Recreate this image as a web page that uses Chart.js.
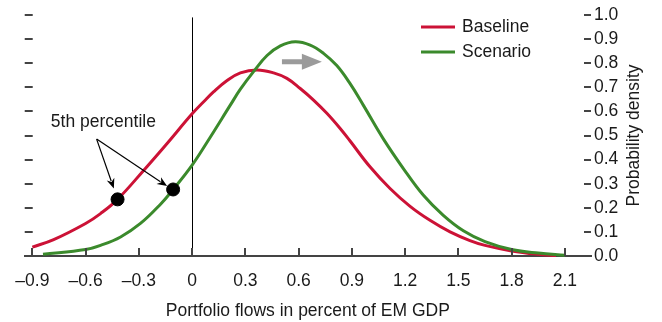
<!DOCTYPE html>
<html>
<head>
<meta charset="utf-8">
<script src="https://cdn.jsdelivr.net/npm/chart.js@4.4.1/dist/chart.umd.min.js"></script>
<style>
  html, body { margin: 0; padding: 0; background: #fff; }
  #wrap { width: 662px; height: 322px; position: relative; }
</style>
</head>
<body>
<div id="wrap"><canvas id="grafico"></canvas></div>
<script>
// dados
const baselineX = [-0.9, -0.78, -0.6, -0.516, -0.42, -0.272, -0.141, 0, 0.065, 0.122, 0.197, 0.272, 0.366, 0.459, 0.534, 0.609, 0.684, 0.759, 0.834, 0.89, 1.002, 1.115, 1.228, 1.34, 1.453, 1.565, 1.65, 1.8, 1.95, 2.05];
const baselineY = [0.037, 0.068, 0.135, 0.176, 0.235, 0.356, 0.467, 0.59, 0.64, 0.682, 0.728, 0.76, 0.772, 0.76, 0.737, 0.695, 0.647, 0.592, 0.529, 0.477, 0.37, 0.28, 0.206, 0.148, 0.1, 0.064, 0.044, 0.021, 0.007, 0.002];
const scenarioX = [-0.84, -0.6, -0.516, -0.403, -0.291, -0.178, -0.107, 0, 0.103, 0.215, 0.272, 0.347, 0.422, 0.497, 0.581, 0.665, 0.74, 0.815, 0.89, 0.965, 1.078, 1.19, 1.303, 1.415, 1.528, 1.65, 1.8, 1.95, 2.1];
const scenarioY = [0.007, 0.027, 0.044, 0.079, 0.135, 0.215, 0.276, 0.377, 0.494, 0.626, 0.692, 0.766, 0.832, 0.872, 0.889, 0.875, 0.841, 0.79, 0.715, 0.625, 0.485, 0.363, 0.252, 0.169, 0.105, 0.06, 0.027, 0.012, 0.003];
const percentileX = [-0.42, -0.107];
const percentileY = [0.235, 0.276];

const seriesLabels = ['Baseline', 'Scenario'];
const xTicks = [-0.9, -0.6, -0.3, 0, 0.3, 0.6, 0.9, 1.2, 1.5, 1.8, 2.1];
const xTickLabels = ['–0.9', '–0.6', '–0.3', '0', '0.3', '0.6', '0.9', '1.2', '1.5', '1.8', '2.1'];
const yTicks = [0, 0.1, 0.2, 0.3, 0.4, 0.5, 0.6, 0.7, 0.8, 0.9, 1.0];
const yTickLabels = ['0.0', '0.1', '0.2', '0.3', '0.4', '0.5', '0.6', '0.7', '0.8', '0.9', '1.0'];
const xTitle = 'Portfolio flows in percent of EM GDP';
const yTitle = 'Probability density';
const noteText = '5th percentile';

const FONT = "'Liberation Sans', Arial, sans-serif";
const TXT = '#1a1a1a';
const EIXO = '#444';

const pares = (xs, ys) => xs.map((x, i) => ({ x: x, y: ys[i] }));

// anotações: setas, texto, linha vertical e legenda
const anotacoes = {
  id: 'anotacoes',
  beforeDatasetsDraw(chart) {
    const { ctx, scales: { x, y } } = chart;
    ctx.save();
    ctx.strokeStyle = '#000';
    ctx.lineWidth = 1;
    ctx.beginPath();
    ctx.moveTo(Math.round(x.getPixelForValue(0)) + 0.5, y.getPixelForValue(0.99));
    ctx.lineTo(Math.round(x.getPixelForValue(0)) + 0.5, y.getPixelForValue(0));
    ctx.stroke();
    ctx.restore();
  },
  afterDraw(chart) {
    const { ctx, chartArea: ca, scales: { x, y } } = chart;
    ctx.save();

    // marcas internas dos eixos
    ctx.strokeStyle = EIXO;
    ctx.lineWidth = 2;
    xTicks.forEach(v => {
      const px = Math.round(x.getPixelForValue(v));
      ctx.beginPath();
      ctx.moveTo(px, ca.bottom);
      ctx.lineTo(px, ca.bottom - 8);
      ctx.stroke();
    });
    yTicks.slice(1).forEach(v => {
      const py = Math.round(y.getPixelForValue(v));
      ctx.beginPath();
      ctx.moveTo(ca.left, py); ctx.lineTo(ca.left + 8, py);
      ctx.moveTo(ca.right - 7, py); ctx.lineTo(ca.right, py);
      ctx.stroke();
    });

    // título do eixo direito, lido de baixo para cima
    ctx.fillStyle = TXT;
    ctx.font = '17.5px ' + FONT;
    ctx.textAlign = 'center';
    ctx.textBaseline = 'middle';
    ctx.translate(634, (ca.top + ca.bottom) / 2);
    ctx.rotate(-Math.PI / 2);
    ctx.fillText(yTitle, 0, 0);
    ctx.setTransform(1, 0, 0, 1, 0, 0);

    // legenda
    chart.data.datasets.slice(0, 2).forEach((ds, i) => {
      const ly = 27 + i * 25;
      ctx.strokeStyle = ds.borderColor;
      ctx.lineWidth = 3;
      ctx.beginPath();
      ctx.moveTo(421, ly); ctx.lineTo(455, ly);
      ctx.stroke();
      ctx.fillStyle = TXT;
      ctx.textAlign = 'left';
      ctx.fillText(ds.label, 462, ly);
    });

    // texto "5th percentile" e setas
    ctx.fillStyle = TXT;
    ctx.textAlign = 'center';
    ctx.fillText(noteText, x.getPixelForValue(-0.5), y.getPixelForValue(0.555));
    const ox = x.getPixelForValue(-0.538), oy = y.getPixelForValue(0.485);
    [[-0.441, 0.28], [-0.141, 0.29]].forEach(([tx, ty]) => {
      const px = x.getPixelForValue(tx), py = y.getPixelForValue(ty);
      const ang = Math.atan2(py - oy, px - ox);
      const len = 10, half = 4;
      ctx.strokeStyle = '#000';
      ctx.lineWidth = 1.2;
      ctx.beginPath();
      ctx.moveTo(ox, oy);
      ctx.lineTo(px - Math.cos(ang) * len * 0.8, py - Math.sin(ang) * len * 0.8);
      ctx.stroke();
      ctx.fillStyle = '#000';
      ctx.beginPath();
      ctx.moveTo(px, py);
      ctx.lineTo(px - Math.cos(ang) * len - Math.sin(ang) * half, py - Math.sin(ang) * len + Math.cos(ang) * half);
      ctx.lineTo(px - Math.cos(ang) * len * 0.7, py - Math.sin(ang) * len * 0.7);
      ctx.lineTo(px - Math.cos(ang) * len + Math.sin(ang) * half, py - Math.sin(ang) * len - Math.cos(ang) * half);
      ctx.closePath();
      ctx.fill();
    });

    // seta cinza de deslocamento
    const ax1 = x.getPixelForValue(0.506), ax2 = x.getPixelForValue(0.731), ay = y.getPixelForValue(0.806);
    ctx.fillStyle = '#9b9b9b';
    ctx.fillRect(ax1, ay - 2.5, ax2 - ax1 - 18, 5);
    ctx.beginPath();
    ctx.moveTo(ax2, ay);
    ctx.lineTo(ax2 - 20, ay - 8);
    ctx.lineTo(ax2 - 20, ay + 8);
    ctx.closePath();
    ctx.fill();

    ctx.restore();
  }
};

document.addEventListener('DOMContentLoaded', function () {
  const ctx = document.getElementById('grafico');
  if (!ctx) return;

  new Chart(ctx.getContext('2d'), {
    type: 'line',
    data: {
      datasets: [{
        label: seriesLabels[0],
        data: pares(baselineX, baselineY),
        borderColor: '#cc1236',
        borderWidth: 3,
        pointRadius: 0,
        tension: 0.4,
        order: 2
      }, {
        label: seriesLabels[1],
        data: pares(scenarioX, scenarioY),
        borderColor: '#3b8a2c',
        borderWidth: 3,
        pointRadius: 0,
        tension: 0.4,
        order: 1
      }, {
        label: noteText,
        data: pares(percentileX, percentileY),
        showLine: false,
        pointRadius: 6.5,
        pointBackgroundColor: '#000',
        pointBorderColor: '#000',
        order: 0
      }]
    },
    options: {
      responsive: true,
      maintainAspectRatio: false,
      animation: false,
      clip: false,
      layout: { padding: { left: 24, top: 15, right: 0, bottom: 0 } },
      plugins: {
        legend: { display: false },
        tooltip: { enabled: false }
      },
      scales: {
        x: {
          type: 'linear',
          min: -0.943,
          max: 2.247,
          afterBuildTicks: s => { s.ticks = xTicks.map(v => ({ value: v })); },
          afterFit: s => { s.height = 66; },
          grid: { display: false, drawTicks: false },
          border: { display: true, color: EIXO, width: 2 },
          ticks: {
            padding: 15,
            color: TXT,
            font: { family: FONT, size: 17.5 },
            maxRotation: 0,
            callback: v => xTickLabels[xTicks.indexOf(Math.round(v * 10) / 10)]
          },
          title: {
            display: true,
            text: xTitle,
            color: TXT,
            font: { family: FONT, size: 17.5 },
            padding: { top: 0, bottom: 0 }
          }
        },
        y: {
          position: 'right',
          min: 0,
          max: 1,
          afterBuildTicks: s => { s.ticks = yTicks.map(v => ({ value: v })); },
          afterFit: s => { s.width = 71; },
          grid: { display: false, drawTicks: false },
          border: { display: false },
          ticks: {
            padding: 3,
            color: TXT,
            font: { family: FONT, size: 17.5 },
            callback: v => yTickLabels[yTicks.indexOf(Math.round(v * 10) / 10)]
          }
        }
      }
    },
    plugins: [anotacoes]
  });
});
</script>
</body>
</html>
